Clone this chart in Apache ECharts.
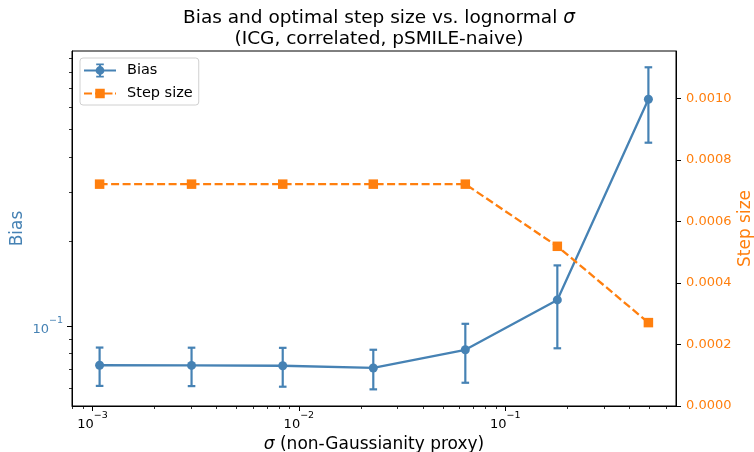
<!DOCTYPE html>
<html>
<head>
<meta charset="utf-8">
<script src="https://cdn.jsdelivr.net/npm/echarts@6/dist/echarts.min.js"></script>
<style>html,body{margin:0;padding:0;background:#fff}#c{width:754px;height:452px}</style>
</head>
<body>
<div id="c"></div>
<script>
// ---- data ----
const sigma = [0.001083, 0.00302, 0.00835, 0.02293, 0.0640, 0.1786, 0.4932];
const bias = [0.0725, 0.0724, 0.0722, 0.0709, 0.0823, 0.1238, 0.641];
const biasErr = [0.0113, 0.0113, 0.0114, 0.0114, 0.0195, 0.0405, 0.192];
const stepSize = [0.000721, 0.000721, 0.000721, 0.000721, 0.000721, 0.000519, 0.000271];
const xMajorTicks = [0.001, 0.01, 0.1];
const xMinorTicks = [0.0008, 0.0009, 0.002, 0.003, 0.004, 0.005, 0.006, 0.007, 0.008, 0.009,
  0.02, 0.03, 0.04, 0.05, 0.06, 0.07, 0.08, 0.09, 0.2, 0.3, 0.4, 0.5, 0.6];
const yMajorTicks = [0.1];
const yMinorTicks = [0.06, 0.07, 0.08, 0.09, 0.2, 0.3, 0.4, 0.5, 0.6, 0.7, 0.8, 0.9];
const stepTicks = [0, 0.0002, 0.0004, 0.0006, 0.0008, 0.0010];

const BLUE = '#4682b4', ORANGE = '#ff7f0e';
const FONT = 'DejaVu Sans';
const X_MIN = 7.96e-4, X_MAX = 0.671;
const Y_MIN = 0.05191, Y_MAX = 0.9519;
const S_MIN = 0, S_MAX = 0.0011537;

// legend glyphs (errorbar marker / dashed line with square)
const BIAS_ICON = 'path://M0 5.9h32v2.2H0Z M15 0h2v14h-2Z M12.2 0h7.6v1.8h-7.6Z M12.2 12.2h7.6v1.8h-7.6Z ' +
  'M20.4 7A4.4 4.4 0 1 1 11.6 7A4.4 4.4 0 1 1 20.4 7Z';
const STEP_ICON = 'path://M0 5.9h8v2.2H0Z M11 5.9h17.5v2.2H11Z M11.25 2.25h9.5v9.5h-9.5Z M31 5.9h1v2.2h-1Z';

const supFmt = v => '{b|10}{s|\u2212' + Math.abs(Math.round(Math.log10(v))) + '}';
const supRich = color => ({
  b: {fontFamily: FONT, fontSize: 13, color: color, verticalAlign: 'bottom', lineHeight: 20},
  s: {fontFamily: FONT, fontSize: 9.5, color: color, verticalAlign: 'top', lineHeight: 20}
});

const chart = echarts.init(document.getElementById('c'), null, {renderer: 'canvas'});
const errData = sigma.map((s, i) => [s, bias[i] - biasErr[i], bias[i] + biasErr[i]]);

chart.setOption({
  animation: false,
  backgroundColor: '#fff',
  title: {
    text: 'Bias and optimal step size vs. lognormal {i|\u03c3}\n(ICG, correlated, pSMILE-naive)',
    left: 374, top: 3, textAlign: 'center',
    textStyle: {
      fontFamily: FONT, fontSize: 18.5, fontWeight: 'normal', color: '#000', lineHeight: 21,
      rich: {i: {fontFamily: FONT, fontSize: 18.5, fontStyle: 'italic', color: '#000', lineHeight: 21}}
    }
  },
  grid: {left: 72, right: 78, top: 51, bottom: 46, show: true, borderColor: '#000', borderWidth: 1,
    containLabel: false, outerBoundsMode: 'none'},
  legend: {
    orient: 'vertical', left: 80, top: 58,
    itemWidth: 32, itemHeight: 14, itemGap: 8,
    padding: [5, 6, 4, 4],
    borderColor: '#d0d0d0', borderWidth: 1, borderRadius: 3,
    backgroundColor: 'rgba(255,255,255,0.8)',
    textStyle: {fontFamily: FONT, fontSize: 14.5, color: '#000', padding: [0, 0, 0, 6]},
    data: [{name: 'Bias', icon: BIAS_ICON}, {name: 'Step size', icon: STEP_ICON}]
  },
  xAxis: [{
    type: 'log', logBase: 10, min: X_MIN, max: X_MAX, position: 'bottom',
    axisLine: {show: true, lineStyle: {color: '#000', width: 1}},
    axisTick: {show: true, customValues: xMajorTicks, length: 5, lineStyle: {color: '#000', width: 1}},
    axisLabel: {customValues: xMajorTicks, formatter: supFmt, rich: supRich('#000'), margin: 5},
    splitLine: {show: false}, minorTick: {show: false},
    name: '{i|\u03c3} (non-Gaussianity proxy)', nameLocation: 'middle', nameGap: 28,
    nameTextStyle: {fontFamily: FONT, fontSize: 17, color: '#000',
      rich: {i: {fontFamily: FONT, fontSize: 17, fontStyle: 'italic', color: '#000'}}}
  }, {
    type: 'log', logBase: 10, min: X_MIN, max: X_MAX, position: 'bottom',
    axisLine: {show: false},
    axisTick: {show: true, customValues: xMinorTicks, length: 3, lineStyle: {color: '#000', width: 0.8}},
    axisLabel: {show: false}, splitLine: {show: false}
  }],
  yAxis: [{
    type: 'log', logBase: 10, min: Y_MIN, max: Y_MAX, position: 'left',
    axisLine: {show: true, lineStyle: {color: '#000', width: 1}},
    axisTick: {show: true, customValues: yMajorTicks, length: 5, lineStyle: {color: '#000', width: 1}},
    axisLabel: {customValues: yMajorTicks, formatter: supFmt, rich: supRich(BLUE), margin: 9},
    splitLine: {show: false},
    name: 'Bias', nameLocation: 'middle', nameRotate: 90, nameGap: 46, nameMoveOverlap: false,
    nameTextStyle: {fontFamily: FONT, fontSize: 17, color: BLUE}
  }, {
    type: 'value', min: S_MIN, max: S_MAX, interval: 0.0002, position: 'right',
    axisLine: {show: true, lineStyle: {color: '#000', width: 1}},
    axisTick: {show: true, customValues: stepTicks, length: 5, lineStyle: {color: '#000', width: 1}},
    axisLabel: {customValues: stepTicks, formatter: v => v.toFixed(4), color: ORANGE,
      fontFamily: FONT, fontSize: 13, margin: 10},
    splitLine: {show: false},
    name: 'Step size', nameLocation: 'middle', nameRotate: 90, nameGap: 61, nameMoveOverlap: false,
    nameTextStyle: {fontFamily: FONT, fontSize: 17, color: ORANGE}
  }, {
    type: 'log', logBase: 10, min: Y_MIN, max: Y_MAX, position: 'left',
    axisLine: {show: false},
    axisTick: {show: true, customValues: yMinorTicks, length: 3, lineStyle: {color: '#000', width: 0.8}},
    axisLabel: {show: false}, splitLine: {show: false}
  }],
  series: [{
    name: 'Bias error', type: 'custom', xAxisIndex: 0, yAxisIndex: 0, z: 2,
    data: errData,
    itemStyle: {color: BLUE},
    renderItem: (params, api) => {
      const top = api.coord([api.value(0), api.value(2)]);
      const bot = api.coord([api.value(0), api.value(1)]);
      const hw = 3.8;
      const st = {stroke: BLUE, lineWidth: 2.2};
      return {type: 'group', children: [
        {type: 'line', shape: {x1: top[0], y1: top[1], x2: bot[0], y2: bot[1]}, style: st},
        {type: 'line', shape: {x1: top[0] - hw, y1: top[1], x2: top[0] + hw, y2: top[1]}, style: st},
        {type: 'line', shape: {x1: bot[0] - hw, y1: bot[1], x2: bot[0] + hw, y2: bot[1]}, style: st}
      ]};
    }
  }, {
    name: 'Bias', type: 'line', xAxisIndex: 0, yAxisIndex: 0, z: 3,
    data: sigma.map((s, i) => [s, bias[i]]),
    symbol: 'circle', symbolSize: 9, showAllSymbol: true,
    itemStyle: {color: BLUE}, lineStyle: {color: BLUE, width: 2.3}
  }, {
    name: 'Step size', type: 'line', xAxisIndex: 0, yAxisIndex: 1, z: 4,
    data: sigma.map((s, i) => [s, stepSize[i]]),
    symbol: 'rect', symbolSize: 9.5, showAllSymbol: true,
    itemStyle: {color: ORANGE}, lineStyle: {color: ORANGE, width: 2.3, type: [8, 3.5]}
  }]
});
</script>
</body>
</html>
